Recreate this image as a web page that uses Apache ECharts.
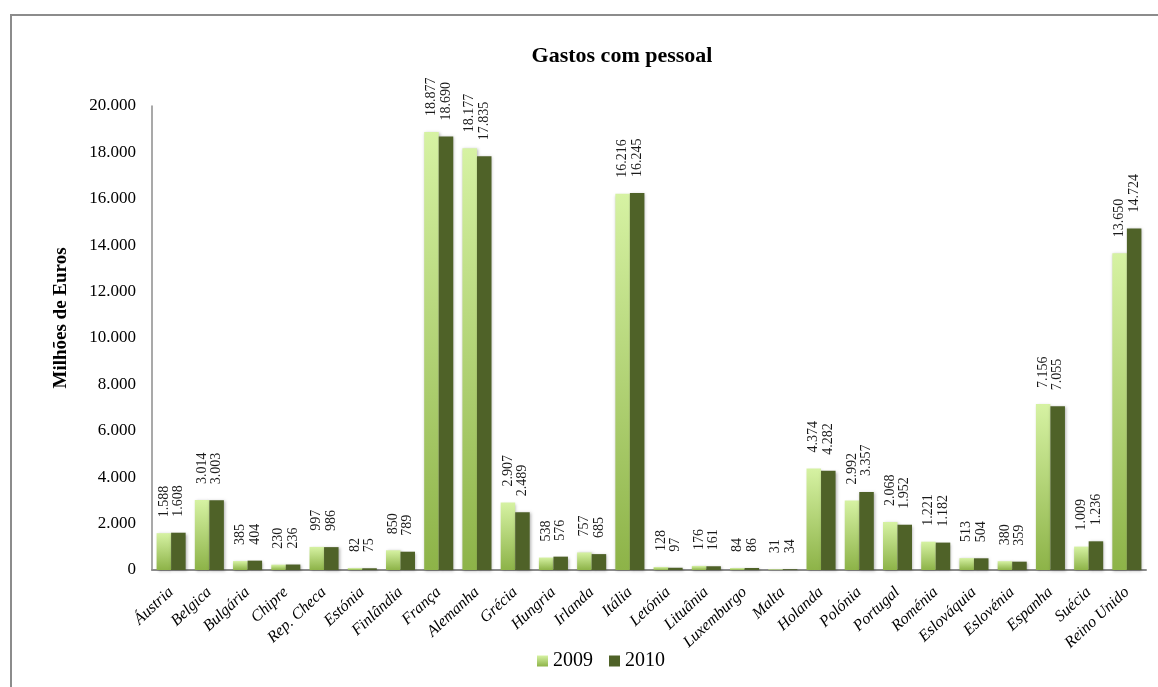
<!DOCTYPE html>
<html>
<head>
<meta charset="utf-8">
<script src="https://cdn.jsdelivr.net/npm/echarts@6/dist/echarts.min.js"></script>
<style>
html,body{margin:0;padding:0;background:#fff;}
#c{width:1158px;height:687px;}
</style>
</head>
<body>
<div id="c"></div>
<script>
var categories = ['Áustria','Belgica','Bulgária','Chipre','Rep. Checa','Estónia','Finlândia','França','Alemanha','Grécia','Hungria','Irlanda','Itália','Letónia','Lituânia','Luxemburgo','Malta','Holanda','Polónia','Portugal','Roménia','Eslováquia','Eslovénia','Espanha','Suécia','Reino Unido'];
var values2009 = [1588,3014,385,230,997,82,850,18877,18177,2907,538,757,16216,128,176,84,31,4374,2992,2068,1221,513,380,7156,1009,13650];
var values2010 = [1608,3003,404,236,986,75,789,18690,17835,2489,576,685,16245,97,161,86,34,4282,3357,1952,1182,504,359,7055,1236,14724];
var yTicks = {min:0, max:20000, interval:2000};

function fmt(v){
  return String(Math.round(v)).replace(/\B(?=(\d{3})+(?!\d))/g,'.');
}
var serif = '"Liberation Serif", "DejaVu Serif", serif';
var chart = echarts.init(document.getElementById('c'), null, {renderer:'canvas'});
var labelCfg = {
  show:true, position:'top', rotate:90, align:'left', verticalAlign:'middle',
  distance:16, fontFamily:serif, fontSize:14, color:'#1a1a1a',
  formatter:function(p){return fmt(p.value);}
};
chart.setOption({
  animation:false,
  backgroundColor:'#fff',
  title:{
    text:'Gastos com pessoal', left:617, top:40, textAlign:'center',
    textStyle:{fontFamily:serif, fontWeight:'bold', fontSize:22, color:'#000'}
  },
  legend:{
    data:['2009','2010'], left:532, top:646, itemWidth:11, itemHeight:11, itemGap:16,
    icon:'rect',
    textStyle:{fontFamily:serif, fontSize:20, color:'#000'}
  },
  grid:{left:152, right:12, top:106, bottom:117},
  xAxis:{
    type:'category', data:categories,
    axisLine:{lineStyle:{color:'#8c8c8c', width:2}},
    axisTick:{show:false},
    axisLabel:{rotate:43, interval:0, margin:20, fontFamily:serif, fontStyle:'italic', fontSize:16, color:'#000'}
  },
  yAxis:{
    type:'value', min:yTicks.min, max:yTicks.max, interval:yTicks.interval,
    splitLine:{show:false},
    axisLine:{show:true, lineStyle:{color:'#8c8c8c', width:1.5}},
    axisTick:{show:false},
    axisLabel:{margin:16, fontFamily:serif, fontSize:17, color:'#000', formatter:fmt}
  },
  graphic:[
    {type:'line', shape:{x1:10, y1:15, x2:1158, y2:15}, style:{stroke:'#8c8c8c', lineWidth:2}},
    {type:'line', shape:{x1:11, y1:14, x2:11, y2:687}, style:{stroke:'#8c8c8c', lineWidth:2}},
    {type:'text', x:61, y:318, rotation:Math.PI/2,
     style:{text:'Milhões de Euros', font:'bold 19px '+serif, fill:'#000', align:'center', verticalAlign:'middle'}}
  ],
  series:[
    {
      name:'2009', type:'bar', data:values2009, barGap:'0%', barCategoryGap:'24%',
      itemStyle:{
        color:new echarts.graphic.LinearGradient(0,0,0,1,[{offset:0,color:'#d6f2a3'},{offset:1,color:'#8db348'}]),
        shadowColor:'rgba(0,0,0,0.3)', shadowBlur:3, shadowOffsetX:1, shadowOffsetY:1
      },
      label:labelCfg
    },
    {
      name:'2010', type:'bar', data:values2010,
      itemStyle:{color:'#4f6228', shadowColor:'rgba(0,0,0,0.3)', shadowBlur:3, shadowOffsetX:1, shadowOffsetY:1},
      label:labelCfg
    }
  ]
});
</script>
</body>
</html>
